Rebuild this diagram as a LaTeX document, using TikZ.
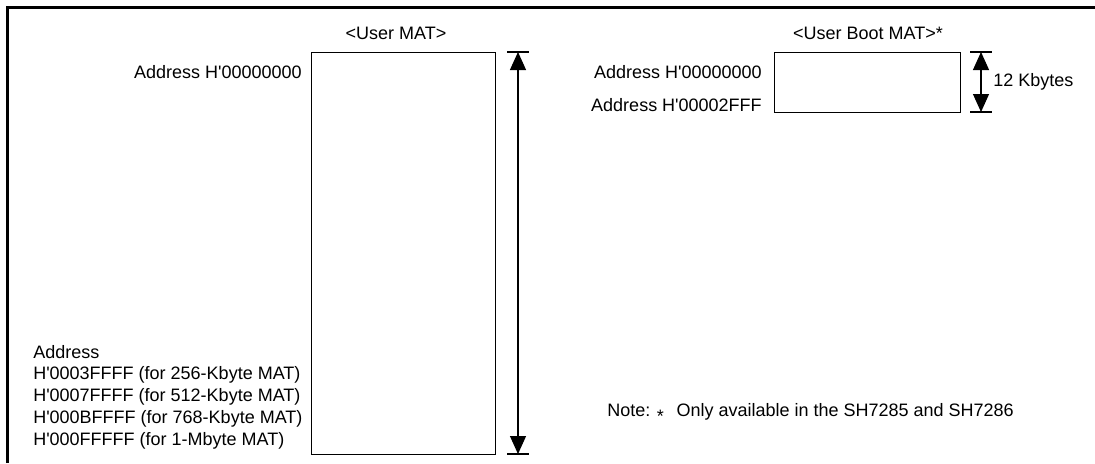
\documentclass[tikz,border=0pt]{standalone}
\usepackage{fontspec}
\newfontfamily\lblfont{Liberation Sans}
\usetikzlibrary{arrows.meta,positioning}
\tikzset{
  frame/.style={line width=2pt},
  matbox/.style={draw,line width=0.9pt,inner sep=0pt},
  lbl/.style={font=\lblfont\fontsize{12.8}{15.5}\selectfont,inner sep=0pt},
  dimarrow/.style={{Triangle[length=0.45cm,width=0.4cm]}-{Triangle[length=0.45cm,width=0.4cm]},line width=0.8pt},
  dimtick/.style={line width=0.8pt},
}
\newcommand{\midast}{\raisebox{-0.3em}{*}}
\begin{document}
\begin{tikzpicture}[x=0.025cm,y=-0.025cm]
  \useasboundingbox (0,0) rectangle (1095,463);
  % frame (top and left only)
  \draw[frame] (7.5,463) -- (7.5,7.5) -- (1095,7.5);

  % user MAT
  \node[matbox,anchor=north west,minimum width=4.6cm,minimum height=10.05cm] (user) at (311,52) {};
  \node[lbl] (userttl) at (396,33) {<User MAT>};
  \node[lbl,anchor=east] (userfirst) at (302,72) {Address H'00000000};
  \node[lbl,anchor=west,align=left] (userlast) at (33,397)
    {Address\\H'0003FFFF (for 256-Kbyte MAT)\\H'0007FFFF (for 512-Kbyte MAT)\\H'000BFFFF (for 768-Kbyte MAT)\\H'000FFFFF (for 1-Mbyte MAT)};
  \coordinate (utop) at (518,52);
  \coordinate (ubot) at (518,454);
  \draw[dimtick] (utop) +(-11,0) -- +(11,0);
  \draw[dimtick] (ubot) +(-11,0) -- +(11,0);
  \draw[dimarrow] (utop) -- (ubot);

  % user boot MAT
  \node[matbox,anchor=north west,minimum width=4.65cm,minimum height=1.5cm] (boot) at (774,52) {};
  \node[lbl] (bootttl) at (868,33) {<User Boot MAT>*};
  \node[lbl,anchor=east] (bootfirst) at (762,72) {Address H'00000000};
  \node[lbl,anchor=east] (bootlast) at (762,105) {Address H'00002FFF};
  \coordinate (btop) at (981,52);
  \coordinate (bbot) at (981,112);
  \draw[dimtick] (btop) +(-11,0) -- +(11,0);
  \draw[dimtick] (bbot) +(-11,0) -- +(11,0);
  \draw[dimarrow] (btop) -- (bbot);
  \node[lbl,anchor=west] (bootsize) at (993,82) {12 Kbytes};

  % note
  \node[lbl,anchor=west] (note) at (607,413) {Note: \midast\hspace{0.7em}Only available in the SH7285 and SH7286};
\end{tikzpicture}
\end{document}
